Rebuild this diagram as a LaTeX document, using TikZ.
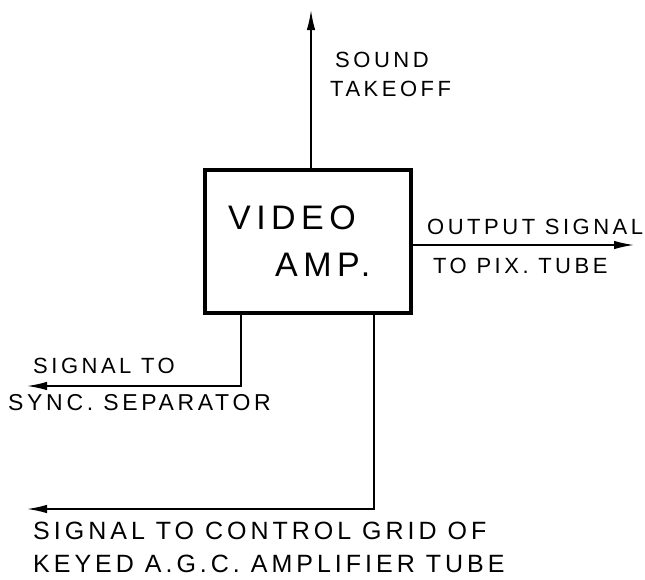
\documentclass[tikz,border=0pt]{standalone}
\usepackage{fontspec}
\setmainfont{Liberation Sans}
\newfontfamily\lettering[LetterSpace=16]{Liberation Sans}
\usepackage{tikz}
\usetikzlibrary{calc,arrows.meta,positioning}

\begin{document}
\begin{tikzpicture}[x=1pt,y=-1pt,
     >={Latex[length=20pt,width=8.5pt]},
     block/.style={draw,line width=3.5pt,minimum width=206pt,minimum height=143pt,inner sep=0pt},
     lbl/.style={anchor=west,inner sep=0pt,font=\lettering\fontsize{22}{22}\selectfont},
     big/.style={anchor=west,inner sep=0pt,font=\lettering\fontsize{34}{34}\selectfont},
     sig/.style={line width=1.6pt,->}]
    \useasboundingbox (0,0) rectangle (645,579);
    % the amplifier
    \node[block] (amp) at (308,241.5) {};
    \node[big] (t1) at (228,218) {VIDEO};
    \node[big] (t2) at (275,265) {AMP.};
    % outputs
    \coordinate (snd)  at (311,10);
    \coordinate (pix)  at (634,245);
    \coordinate (sep)  at (27,386);
    \coordinate (agc)  at (27,509);
    \coordinate (sepk) at (241,386);
    \coordinate (agck) at (374,509);
    \draw[sig] (amp.north -| snd) -- (snd);
    \draw[sig] (amp.east |- pix) -- (pix);
    \draw[sig] (amp.south -| sepk) -- (sepk) -- (sep);
    \draw[sig] (amp.south -| agck) -- (agck) -- (agc);
    % labels
    \node[lbl] (l1) at (335,60)  {SOUND};
    \node[lbl] (l2) at (330,89)  {TAKEOFF};
    \node[lbl] (l3) at (427,227) {OUTPUT SIGNAL};
    \node[lbl] (l4) at (433,266) {TO PIX. TUBE};
    \node[lbl] (l5) at (33,366)  {SIGNAL TO};
    \node[lbl,font=\lettering\fontsize{23}{23}\selectfont] (l6) at (8,403) {SYNC. SEPARATOR};
    \node[lbl,font=\lettering\fontsize{25}{25}\selectfont] (l7) at (33,531) {SIGNAL TO CONTROL GRID OF};
    \node[lbl,font=\lettering\fontsize{25}{25}\selectfont] (l8) at (33,564) {KEYED A.G.C. AMPLIFIER TUBE};
  \end{tikzpicture}
\end{document}
